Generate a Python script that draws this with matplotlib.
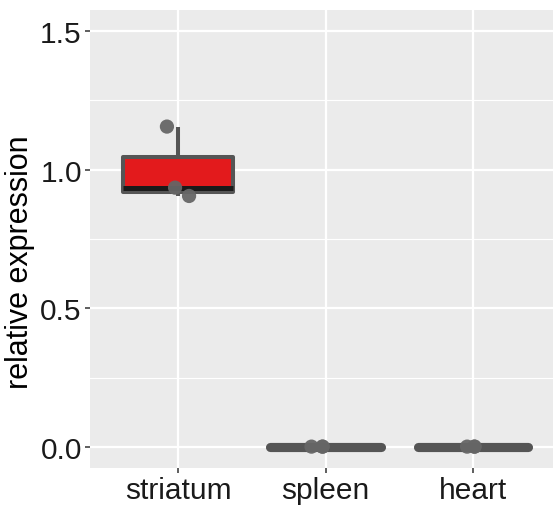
import matplotlib.pyplot as plt
import numpy as np

# tissues and measured relative expression (3 replicates each)
tissues = ["striatum", "spleen", "heart"]
striatum_vals = [1.155, 0.935, 0.905]
spleen_vals = [0.002, 0.002, 0.002]
heart_vals = [0.002, 0.002, 0.002]
# horizontal jitter of the points, as drawn
striatum_jit = [-0.075, -0.02, 0.075]
spleen_jit = [-0.095, -0.02, -0.02]
heart_jit = [-0.04, 0.01, 0.01]

y_ticks = [0.0, 0.5, 1.0, 1.5]
y_minor = [0.25, 0.75, 1.25]

plt.rcParams['font.family'] = ['Liberation Sans', 'DejaVu Sans']

W, H = 553, 510
fig = plt.figure(figsize=(W / 100, H / 100), dpi=100)
# panel: left 89.5px, right 561.5px (clipped by figure), top 11px, bottom 469px
ax = fig.add_axes([89.5 / W, 1 - 469 / H, (561.5 - 89.5) / W, (469 - 11) / H])
ax.set_facecolor("#EBEBEB")
for s in ax.spines.values():
    s.set_visible(False)

data = [striatum_vals, spleen_vals, heart_vals]
jits = [striatum_jit, spleen_jit, heart_jit]
pos = np.arange(1, len(tissues) + 1)

# grid lines
for y in y_ticks:
    ax.axhline(y, color="white", lw=1.6, zorder=0)
for y in y_minor:
    ax.axhline(y, color="white", lw=0.8, zorder=0)
for x in pos:
    ax.axvline(x, color="white", lw=1.6, zorder=0)

box_col = "#555555"
bp = ax.boxplot(data, positions=pos, widths=0.75, patch_artist=True,
                showfliers=False, showcaps=False, zorder=2,
                boxprops=dict(facecolor="#E31A1C", edgecolor=box_col, linewidth=2.9),
                whiskerprops=dict(color=box_col, linewidth=2.9, solid_capstyle="butt"),
                medianprops=dict(color="#1a1a1a", linewidth=3.6, solid_capstyle="butt"))
for b in bp["boxes"]:
    b.set_joinstyle("round")

# flat boxes (no spread) show as one thick grey bar
for i, vals in enumerate(data):
    if max(vals) - min(vals) < 1e-6:
        med = bp["medians"][i]
        med.set_color(box_col)
        med.set_linewidth(6.6)
        med.set_solid_capstyle("round")
        bp["boxes"][i].set_visible(False)

for p, vals, j in zip(pos, data, jits):
    ax.scatter(p + np.array(j), vals, s=105, color="#666666", edgecolor="none",
               alpha=0.95, zorder=3)

ax.set_xlim(0.4, 3.6)
ax.set_ylim(-0.075, 1.575)
ax.set_xticks(pos)
ax.set_xticklabels(tissues)
ax.set_yticks(y_ticks)
ax.set_yticklabels(["0.0", "0.5", "1.0", "1.5"])
ax.tick_params(axis="both", length=3.5, width=1.1, color="#333333",
               labelsize=21.5, labelcolor="#1a1a1a", pad=2)
ax.set_ylabel("relative expression", fontsize=22, color="black")
ax.yaxis.set_label_coords(-0.115, 0.452)

fig.savefig("out.png", dpi=100)
